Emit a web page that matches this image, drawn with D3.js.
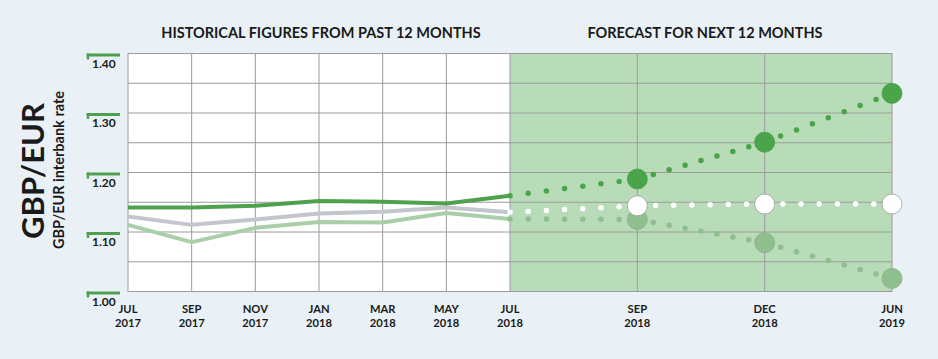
<!DOCTYPE html>
<html>
<head>
<meta charset="utf-8">
<script src="https://cdn.jsdelivr.net/npm/d3@7"></script>
<style>
  html, body { margin: 0; padding: 0; background: #e9f1f6; }
  svg { display: block; }
  text { font-family: Lato, "Open Sans", sans-serif; font-weight: 700; fill: #1a1a1a; }
</style>
</head>
<body>
<svg id="chart" width="938" height="359"></svg>
<script>
// ---- data ----
const histMonthIndex = [0, 2, 4, 6, 8, 10, 12];
const histTickMonths = ["JUL", "SEP", "NOV", "JAN", "MAR", "MAY", "JUL"];
const histTickYears  = ["2017", "2017", "2017", "2018", "2018", "2018", "2018"];
const fcKeys         = ["JUL 2018", "SEP 2018", "DEC 2018", "JUN 2019"];
const fcTickMonths   = ["SEP", "DEC", "JUN"];
const fcTickYears    = ["2018", "2018", "2019"];
const yTicks = [1.00, 1.10, 1.20, 1.30, 1.40];
const yGrid  = [1.05, 1.10, 1.15, 1.20, 1.25, 1.30, 1.35];

const histHigh = [1.141, 1.141, 1.144, 1.152, 1.151, 1.148, 1.161];
const histMid  = [1.126, 1.112, 1.121, 1.131, 1.134, 1.141, 1.133];
const histLow  = [1.112, 1.083, 1.107, 1.117, 1.116, 1.132, 1.122];

const fcHigh = [1.161, 1.189, 1.251, 1.333];
const fcMid  = [1.133, 1.144, 1.147, 1.147];
const fcLow  = [1.122, 1.121, 1.082, 1.022];

const titles = ["HISTORICAL FIGURES FROM PAST 12 MONTHS", "FORECAST FOR NEXT 12 MONTHS"];

// ---- layout ----
const L = 128, M = 510, R = 892, T = 53.5, B = 291.5;
const svg = d3.select("#chart");

const y  = d3.scaleLinear().domain([1.0, 1.4]).range([B, T]);
const xh = d3.scaleLinear().domain([0, 12]).range([L, M]);
const xf = d3.scalePoint().domain(fcKeys).range([M, R]);

const C = {
  grid: "#9c9c9c",
  fcFill: "#b8dbb8",
  high: "#4ea24e",
  highDot: "#4aa54a",
  mid: "#c3c6cc",
  low: "#a9cfa9",
  lowDot: "#8fbe8f",
  tick: "#4e9f4e"
};

// backgrounds
svg.append("rect").attr("x", L).attr("y", T).attr("width", M - L).attr("height", B - T).attr("fill", "#ffffff");
svg.append("rect").attr("x", M).attr("y", T).attr("width", R - M).attr("height", B - T).attr("fill", C.fcFill);

// grid
const g = svg.append("g").attr("stroke", C.grid).attr("stroke-width", 1).attr("fill", "none");
yGrid.forEach(v => g.append("line").attr("x1", L).attr("x2", R).attr("y1", y(v)).attr("y2", y(v)));
histMonthIndex.slice(1).forEach(m => g.append("line").attr("x1", xh(m)).attr("x2", xh(m)).attr("y1", T).attr("y2", B));
fcKeys.slice(1, 3).forEach(k => g.append("line").attr("x1", xf(k)).attr("x2", xf(k)).attr("y1", T).attr("y2", B));
g.append("rect").attr("x", L).attr("y", T).attr("width", R - L).attr("height", B - T);

// titles
svg.append("text").attr("x", (L + M) / 2 + 2).attr("y", 37.5).attr("text-anchor", "middle")
  .attr("font-size", 14.5).text(titles[0]);
svg.append("text").attr("x", (M + R) / 2 + 4).attr("y", 37.5).attr("text-anchor", "middle")
  .attr("font-size", 14.5).text(titles[1]);

// y axis ticks
yTicks.forEach(v => {
  const yy = y(v);
  svg.append("rect").attr("x", 86.7).attr("y", yy).attr("width", 33.3).attr("height", 3).attr("fill", C.tick);
  svg.append("rect").attr("x", 86.7).attr("y", yy).attr("width", 2.5).attr("height", 6).attr("fill", C.tick);
  svg.append("text").attr("x", 92).attr("y", yy + 14).attr("font-size", 12).text(v.toFixed(2));
});

// axis titles
svg.append("text").attr("transform", "translate(44,171) rotate(-90)").attr("text-anchor", "middle")
  .attr("font-size", 31).attr("font-weight", 900).text("GBP/EUR");
svg.append("text").attr("transform", "translate(64,170) rotate(-90)").attr("text-anchor", "middle")
  .attr("font-size", 14.5).text("GBP/EUR interbank rate");

// x ticks (month and year as separate texts)
function xTick(x, mon, yr) {
  svg.append("text").attr("x", x).attr("y", 313).attr("text-anchor", "middle").attr("font-size", 11.2).text(mon);
  svg.append("text").attr("x", x).attr("y", 326.5).attr("text-anchor", "middle").attr("font-size", 11.2).text(yr);
}
histMonthIndex.forEach((m, i) => xTick(xh(m), histTickMonths[i], histTickYears[i]));
fcKeys.slice(1).forEach((k, i) => xTick(xf(k), fcTickMonths[i], fcTickYears[i]));

// historical lines
const hLine = d3.line().x((d, i) => xh(histMonthIndex[i])).y(d => y(d));
[[histLow, C.low], [histMid, C.mid], [histHigh, C.high]].forEach(([data, col]) => {
  svg.append("path").attr("d", hLine(data)).attr("fill", "none").attr("stroke", col)
    .attr("stroke-width", 4).attr("stroke-linejoin", "round");
});

// forecast dotted segments + markers
function dotted(data, col, nArr) {
  const grp = svg.append("g");
  for (let i = 0; i < data.length - 1; i++) {
    const x1 = xf(fcKeys[i]), y1 = y(data[i]), x2 = xf(fcKeys[i + 1]), y2 = y(data[i + 1]);
    const len = Math.hypot(x2 - x1, y2 - y1);
    const gap = len / nArr[i];
    grp.append("line").attr("x1", x1).attr("y1", y1).attr("x2", x2).attr("y2", y2)
      .attr("stroke", col).attr("stroke-width", 5.5).attr("stroke-linecap", "round")
      .attr("stroke-dasharray", `0,${gap}`);
  }
  return grp;
}
dotted(fcLow, C.lowDot, [7, 8, 8]);
dotted(fcMid, "#ffffff", [7, 7, 7]);
dotted(fcHigh, C.highDot, [7, 8, 8]);

function bigDots(data, fill, stroke) {
  fcKeys.slice(1).forEach((k, i) => {
    svg.append("circle").attr("cx", xf(k)).attr("cy", y(data[i + 1])).attr("r", 10)
      .attr("fill", fill).attr("stroke", stroke).attr("stroke-width", 0.8);
  });
}
bigDots(fcLow, C.lowDot, "#86b386");
bigDots(fcMid, "#ffffff", "#a0a0a0");
bigDots(fcHigh, C.highDot, "#44a044");
</script>
</body>
</html>
